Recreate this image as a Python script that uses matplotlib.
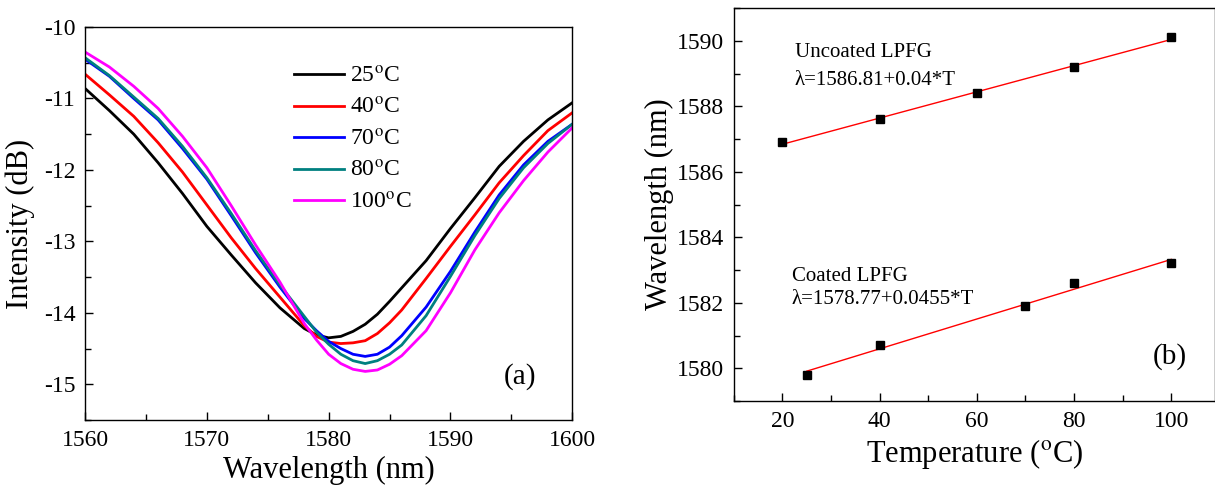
import numpy as np
import matplotlib
matplotlib.use("Agg")
import matplotlib.pyplot as plt
from matplotlib.ticker import MultipleLocator

plt.rcParams["font.family"] = ["Liberation Serif", "DejaVu Serif"]
plt.rcParams["mathtext.fontset"] = "stix"
plt.rcParams["axes.unicode_minus"] = False

# (a) transmission spectra (finer around the dip)
wl = [1560, 1562, 1564, 1566, 1568, 1570, 1572, 1574, 1576, 1578,
      1579, 1580, 1581, 1582, 1583, 1584, 1585, 1586,
      1588, 1590, 1592, 1594, 1596, 1598, 1600]
i_25 = [-10.86, -11.17, -11.50, -11.90, -12.33, -12.79, -13.19, -13.58, -13.93, -14.22,
        -14.31, -14.35, -14.33, -14.26, -14.16, -14.02, -13.84, -13.65,
        -13.27, -12.82, -12.39, -11.95, -11.60, -11.30, -11.06]
i_40 = [-10.66, -10.95, -11.25, -11.62, -12.03, -12.49, -12.95, -13.38, -13.78, -14.18,
        -14.33, -14.41, -14.43, -14.42, -14.39, -14.29, -14.14, -13.96,
        -13.52, -13.07, -12.63, -12.18, -11.80, -11.45, -11.20]
i_70 = [-10.45, -10.69, -11.00, -11.30, -11.70, -12.13, -12.64, -13.16, -13.64, -14.08,
        -14.25, -14.40, -14.50, -14.58, -14.61, -14.58, -14.48, -14.32,
        -13.92, -13.42, -12.87, -12.35, -11.93, -11.60, -11.36]
i_80 = [-10.43, -10.68, -10.98, -11.28, -11.67, -12.11, -12.61, -13.13, -13.61, -14.05,
        -14.27, -14.44, -14.58, -14.67, -14.71, -14.67, -14.58, -14.45,
        -14.04, -13.49, -12.92, -12.40, -11.97, -11.63, -11.36]
i_100 = [-10.35, -10.56, -10.83, -11.14, -11.53, -11.97, -12.50, -13.05, -13.57, -14.15,
         -14.38, -14.58, -14.71, -14.79, -14.82, -14.80, -14.72, -14.60,
         -14.25, -13.72, -13.12, -12.60, -12.15, -11.75, -11.41]
spectra = [i_25, i_40, i_70, i_80, i_100]
spec_labels = ["25", "40", "70", "80", "100"]
spec_colors = ["black", "red", "blue", "#008080", "magenta"]

# (b) resonance wavelength vs temperature
t_unc = [20, 40, 60, 80, 100]
wl_unc = [1586.9, 1587.6, 1588.4, 1589.2, 1590.1]
t_coat = [25, 40, 70, 80, 100]
wl_coat = [1579.8, 1580.7, 1581.9, 1582.6, 1583.2]

fig = plt.figure(figsize=(12.15, 4.91), dpi=100)

# ---- panel (a)
ax1 = fig.add_axes([0.070, 0.1446, 0.401, 0.8004])
for y, lab, c in zip(spectra, spec_labels, spec_colors):
    ax1.plot(wl, y, color=c, lw=2.0, label=lab + r"$^{\rm o}$C")
ax1.set_xlim(1560, 1600)
ax1.set_ylim(-15.5, -10)
ax1.xaxis.set_major_locator(MultipleLocator(10))
ax1.xaxis.set_minor_locator(MultipleLocator(5))
ax1.yaxis.set_major_locator(MultipleLocator(1))
ax1.yaxis.set_minor_locator(MultipleLocator(0.5))
ax1.set_xlabel("Wavelength (nm)", fontsize=22, labelpad=4)
ax1.set_ylabel("Intensity (dB)", fontsize=22, labelpad=6)
ax1.legend(loc="upper left", bbox_to_anchor=(0.41, 0.925), frameon=False, fontsize=17,
           handlelength=2.1, handletextpad=0.25, labelspacing=0.42, borderaxespad=0)
ax1.text(1595.7, -14.89, "(a)", fontsize=21, ha="center", va="center")

# ---- panel (b)
ax2 = fig.add_axes([0.604, 0.1833, 0.396, 0.8004])
for t, w in [(t_unc, wl_unc), (t_coat, wl_coat)]:
    k, b = np.polyfit(t, w, 1)
    tt = np.array([t[0], t[-1]])
    ax2.plot(tt, k * tt + b, color="red", lw=1.0)
    ax2.plot(t, w, "s", color="black", ms=6)
ax2.set_xlim(10, 109)
ax2.set_ylim(1579, 1591)
ax2.xaxis.set_major_locator(MultipleLocator(20))
ax2.xaxis.set_minor_locator(MultipleLocator(10))
ax2.yaxis.set_major_locator(MultipleLocator(2))
ax2.yaxis.set_minor_locator(MultipleLocator(1))
ax2.set_xlabel(r"Temperature ($^{\rm o}$C)", fontsize=22, labelpad=4)
ax2.set_ylabel("Wavelength (nm)", fontsize=22, labelpad=2)
ax2.text(22.5, 1589.65, "Uncoated LPFG", fontsize=15, va="center")
ax2.text(22.5, 1588.8, "\u03bb=1586.81+0.04*T", fontsize=15, va="center")
ax2.text(21.9, 1582.8, "Coated LPFG", fontsize=15, va="center")
ax2.text(21.9, 1582.1, "\u03bb=1578.77+0.0455*T", fontsize=15, va="center")
ax2.text(99.7, 1580.36, "(b)", fontsize=21, ha="center", va="center")

for ax in (ax1, ax2):
    ax.tick_params(which="both", direction="in", labelsize=17, width=1.0)
    ax.tick_params(which="major", length=6, pad=7)
    ax.tick_params(which="minor", length=4)
    for s in ax.spines.values():
        s.set_linewidth(1.0)

fig.savefig("out.png", dpi=100)
